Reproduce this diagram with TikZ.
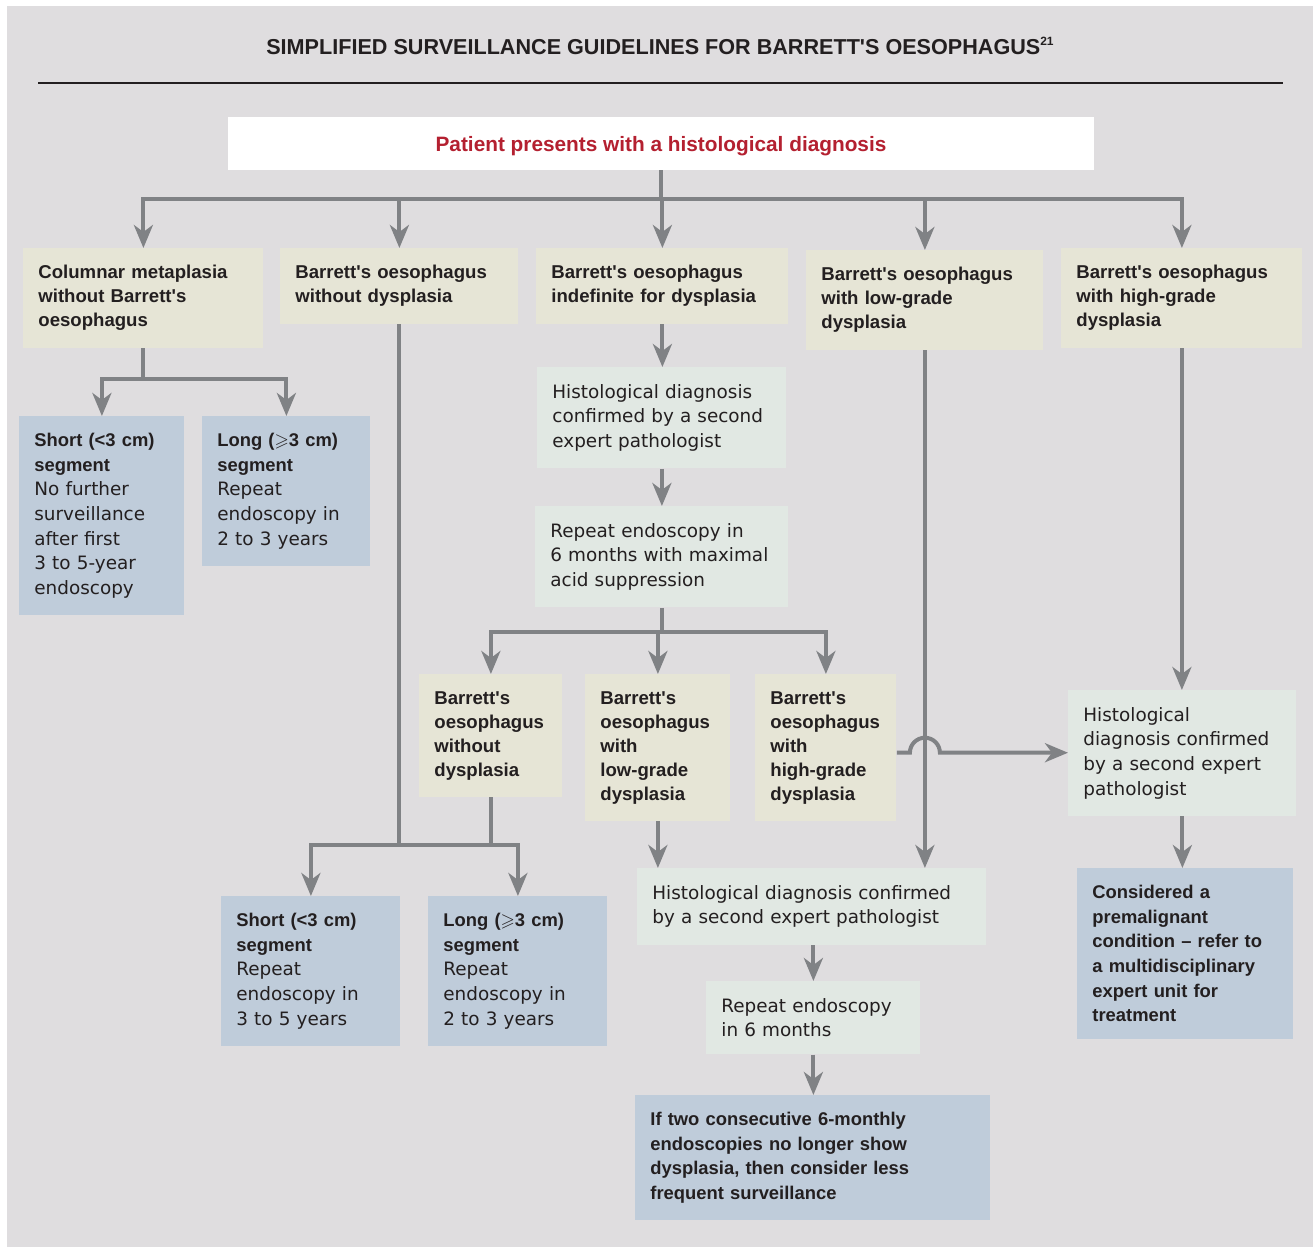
\documentclass[tikz,border=0pt]{standalone}
\usepackage{amssymb}
\usepackage{fontspec}
\setmainfont{Liberation Sans}[Ligatures=TeXOff]
\newfontfamily\bodyfont{DejaVu Sans}
\usetikzlibrary{arrows.meta,positioning}
\definecolor{bggray}{RGB}{223,221,223}
\definecolor{stagebeige}{RGB}{230,229,214}
\definecolor{adviceblue}{RGB}{191,204,218}
\definecolor{checkgreen}{RGB}{225,232,227}
\definecolor{linkgray}{RGB}{128,130,133}
\definecolor{titlered}{RGB}{180,32,48}
\definecolor{inkdark}{RGB}{35,31,32}
\newcommand{\boldhead}[1]{{\rmfamily\bfseries\fontsize{9.2}{12.3}\selectfont #1}}

\begin{document}
\begin{tikzpicture}[
      x=0.5pt, y=-0.5pt,
      flow/.style={rectangle, anchor=north west, inner xsep=7.5pt, inner ysep=8.5pt,
        align=left, text=inkdark},
      stage/.style={flow, fill=stagebeige, font=\fontsize{9.3}{12}\selectfont\bfseries},
      check/.style={flow, fill=checkgreen, font=\bodyfont\fontsize{9.2}{12.3}\selectfont},
      advice/.style={flow, fill=adviceblue, font=\bodyfont\fontsize{9.2}{12.3}\selectfont},
      link/.style={draw=linkgray, line width=2pt},
      arrow/.style={link, -{Stealth[length=11.5pt, width=9.5pt, inset=3.5pt]}},
  ]

      % Background and heading
      \useasboundingbox (0,0) rectangle (1313,1248);
      \fill[bggray] (7,6) rectangle (1313,1247);
      \node[font=\fontsize{10.8}{12}\selectfont\bfseries, text=inkdark] (title) at (660,46)
          {SIMPLIFIED SURVEILLANCE GUIDELINES FOR BARRETT'S OESOPHAGUS\raisebox{0.75ex}{\fontsize{6}{6}\selectfont 21}};
      \draw[inkdark, line width=0.6pt] (38,83) -- (1283,83);

      \node[fill=white, minimum width=433pt, minimum height=26.5pt, inner sep=0pt,
          text height=7.5pt, text depth=0pt,
          text=titlered, font=\fontsize{10.4}{12}\selectfont\bfseries] (patient) at (661,143.5)
          {Patient presents with a histological diagnosis};

      % First row of diagnoses
      \node[stage, text width=105pt] (cm) at (23,248) {Columnar metaplasia\\without Barrett's\\oesophagus};
      \node[stage, text width=104pt] (bnd) at (280,248) {Barrett's oesophagus\\without dysplasia};
      \node[stage, text width=111pt] (bind) at (536,248) {Barrett's oesophagus\\indefinite for dysplasia};
      \node[stage, text width=103.5pt] (blgd) at (806,250) {Barrett's oesophagus\\with low-grade\\dysplasia};
      \node[stage, text width=105.5pt] (bhgd) at (1061,248) {Barrett's oesophagus\\with high-grade\\dysplasia};

      % Columnar metaplasia branch
      \node[advice, text width=67.5pt] (shortA) at (19,416)
          {\boldhead{Short (<3 cm)}\\\boldhead{segment}\\No further\\surveillance\\after first\\3 to 5-year\\endoscopy};
      \node[advice, text width=69pt] (longA) at (202,416)
          {\boldhead{Long ($\geqslant$3 cm)}\\\boldhead{segment}\\Repeat\\endoscopy in\\2 to 3 years};

      % Indefinite branch
      \node[check, text width=109.5pt] (histA) at (537,367)
          {Histological diagnosis\\confirmed by a second\\expert pathologist};
      \node[check, text width=111.5pt] (repA) at (535,506)
          {Repeat endoscopy in\\6 months with maximal\\acid suppression};
      \node[stage, text width=56.5pt] (nodys) at (419,674) {Barrett's\\oesophagus\\without\\dysplasia};
      \node[stage, text width=57.5pt] (lowgd) at (585,674) {Barrett's\\oesophagus\\with\\low-grade\\dysplasia};
      \node[stage, text width=55.5pt] (highgd) at (755,674) {Barrett's\\oesophagus\\with\\high-grade\\dysplasia};

      % Segment length, no dysplasia
      \node[advice, text width=74.5pt] (shortB) at (221,896)
          {\boldhead{Short (<3 cm)}\\\boldhead{segment}\\Repeat\\endoscopy in\\3 to 5 years};
      \node[advice, text width=74.5pt] (longB) at (428,896)
          {\boldhead{Long ($\geqslant$3 cm)}\\\boldhead{segment}\\Repeat\\endoscopy in\\2 to 3 years};

      % Low-grade dysplasia
      \node[check, text width=159.5pt] (histB) at (637,868)
          {Histological diagnosis confirmed\\by a second expert pathologist};
      \node[check, text width=92pt] (repB) at (706,981) {Repeat endoscopy\\in 6 months};
      \node[advice, text width=162.5pt, font=\rmfamily\bfseries\fontsize{9.2}{12.3}\selectfont] (less) at (635,1095)
          {If two consecutive 6-monthly\\endoscopies no longer show\\dysplasia, then consider less\\frequent surveillance};

      % High-grade dysplasia
      \node[check, text width=99pt] (histC) at (1068,690)
          {Histological\\diagnosis confirmed\\by a second expert\\pathologist};
      \node[advice, text width=93pt, font=\rmfamily\bfseries\fontsize{9.2}{12.3}\selectfont] (refer) at (1077,868)
          {Considered a\\premalignant\\condition – refer to\\a multidisciplinary\\expert unit for\\treatment};

      % Connectors
      \coordinate (split) at (patient.south |- 0,199);
      \draw[link] (patient.south) -- (split);
      \foreach \b in {cm,bnd,bind,blgd,bhgd}
          \draw[arrow] (split) -| (\b.north);

      \coordinate (cmfork) at (cm.south |- 0,379);
      \draw[link] (cm.south) -- (cmfork);
      \foreach \b in {shortA,longA}
          \draw[arrow] (cmfork) -| (\b.north);

      \coordinate (ndfork) at (bnd.south |- 0,845);
      \draw[link] (bnd.south) -- (ndfork);
      \draw[link] (nodys.south) -- (nodys.south |- ndfork);
      \foreach \b in {shortB,longB}
          \draw[arrow] (ndfork) -| (\b.north);

      \draw[arrow] (bind.south) -- (bind.south |- histA.north);
      \draw[arrow] (histA.south) -- (histA.south |- repA.north);
      \coordinate (repfork) at (repA.south |- 0,632);
      \draw[link] (repA.south) -- (repfork);
      \foreach \b in {nodys,lowgd,highgd}
          \draw[arrow] (repfork) -| (\b.north);

      \draw[arrow] (lowgd.south) -- (lowgd.south |- histB.north);
      \draw[arrow] (blgd.south) -- (blgd.south |- histB.north);
      \draw[arrow] (histB.south -| repB.north) -- (repB.north);
      \draw[arrow] (repB.south) -- (repB.south |- less.north);

      \coordinate (hop) at ([yshift=-2.5pt]blgd.south |- highgd.east);
      \draw[arrow] (highgd.east |- hop) -- ([xshift=-7.5pt]hop)
          arc[start angle=180, end angle=0, radius=7.5pt] -- (hop -| histC.west);
      \draw[arrow] (bhgd.south) -- (bhgd.south |- histC.north);
      \draw[arrow] (histC.south) -- (histC.south |- refer.north);

  \end{tikzpicture}
\end{document}
